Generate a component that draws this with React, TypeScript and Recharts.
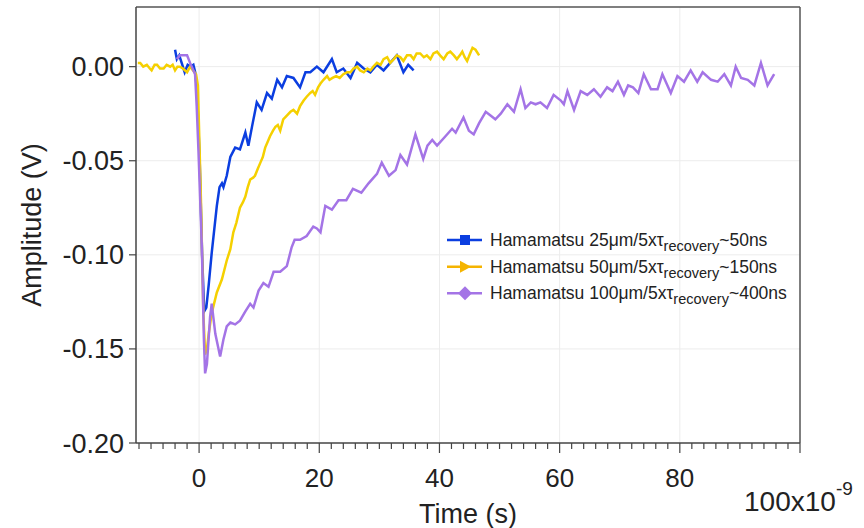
import React from 'react';
import { LineChart, Line, XAxis, YAxis, ReferenceLine, Legend } from 'recharts';

const FONT = '"Liberation Sans", Arial, sans-serif';

const blueT = [-4.0,-3.7,-3.3,-2.9,-2.4,-1.9,-1.4,-0.95,-0.65,-0.35,0.1,0.5,0.85,1.2,1.6,2.1,2.95,3.4,3.8,4.05,4.6,5.2,6.0,6.8,7.7,8.2,8.8,9.6,10.4,11.3,12.1,13.0,13.8,14.6,15.7,16.8,17.7,18.5,19.6,20.7,22.1,22.9,24.0,25.2,26.3,27.4,28.5,29.6,30.7,31.8,32.9,34.0,34.8,35.7];
const blueV = [0.009,0.004,0.006,0.002,-0.003,0.001,0.000,0.001,-0.003,-0.012,-0.050,-0.100,-0.130,-0.128,-0.116,-0.099,-0.074,-0.064,-0.062,-0.064,-0.058,-0.048,-0.043,-0.044,-0.035,-0.042,-0.032,-0.019,-0.023,-0.014,-0.017,-0.007,-0.011,-0.005,-0.006,-0.011,-0.003,-0.003,0.000,-0.003,0.004,-0.003,-0.001,-0.006,0.002,-0.001,-0.003,0.001,-0.002,0.002,0.006,-0.003,0.001,-0.002];

const yellowT = [-10.2,-9.8,-9.3,-8.7,-8.2,-7.9,-7.4,-7.0,-6.5,-5.9,-5.4,-4.8,-4.4,-4.0,-3.6,-3.2,-2.7,-2.0,-1.5,-1.0,-0.5,-0.2,0.3,0.7,1.0,1.3,1.6,2.1,2.95,3.8,4.6,5.2,5.7,6.2,6.8,7.3,7.7,8.1,8.5,9.0,9.3,9.8,10.2,10.6,11.0,11.4,11.8,12.3,12.7,13.1,13.5,14.0,14.6,15.2,15.7,16.3,16.8,17.4,17.9,18.5,18.9,19.3,19.8,20.2,20.7,21.3,21.7,22.2,22.8,23.4,24.0,24.6,25.2,25.7,26.3,26.8,27.4,28.0,28.5,29.0,29.6,30.2,30.7,31.3,31.8,32.4,32.9,33.5,34.0,34.6,35.2,35.7,36.2,36.8,37.4,37.9,38.5,39.0,39.6,40.1,40.7,41.3,41.8,42.4,42.9,43.4,43.8,44.2,44.6,45.1,45.5,46.0,46.6];
const yellowV = [0.002,0.002,0.000,0.001,-0.001,-0.002,0.001,0.001,-0.001,-0.001,0.001,0.000,0.001,-0.002,0.000,0.000,-0.001,-0.003,0.000,-0.002,-0.004,-0.010,-0.070,-0.130,-0.153,-0.150,-0.142,-0.131,-0.120,-0.113,-0.103,-0.097,-0.088,-0.083,-0.075,-0.072,-0.069,-0.064,-0.060,-0.059,-0.058,-0.054,-0.051,-0.048,-0.043,-0.040,-0.037,-0.034,-0.032,-0.031,-0.034,-0.028,-0.026,-0.024,-0.023,-0.025,-0.021,-0.018,-0.016,-0.014,-0.013,-0.015,-0.011,-0.009,-0.007,-0.005,-0.007,-0.006,-0.005,-0.006,-0.004,-0.003,-0.003,-0.001,0.000,-0.002,-0.003,-0.001,-0.002,0.000,0.002,0.001,0.004,0.005,0.002,0.004,0.006,0.005,0.003,0.006,0.006,0.004,0.007,0.007,0.005,0.006,0.004,0.007,0.008,0.006,0.004,0.007,0.008,0.006,0.004,0.006,0.008,0.005,0.003,0.007,0.010,0.009,0.006];

const purpleT = [-3.7,-3.2,-2.6,-2.0,-1.5,-0.67,-0.4,-0.1,0.45,0.8,1.0,1.3,1.83,2.1,2.7,3.5,4.05,4.6,5.2,6.0,6.8,7.7,8.5,9.05,9.9,10.7,11.55,12.4,13.5,14.6,15.4,15.9,16.8,17.9,19.0,19.6,20.2,21.0,22.1,23.2,24.5,25.6,27.0,28.2,29.6,30.4,31.6,32.7,33.5,34.6,36.0,37.3,38.0,38.8,39.6,41.0,42.1,42.7,44.0,44.9,45.7,46.6,47.7,48.5,49.3,50.2,51.3,52.4,53.5,54.3,55.2,56.0,56.8,57.9,59.0,60.2,60.7,61.3,62.4,63.5,64.6,65.7,66.8,67.9,68.8,69.7,70.7,71.4,72.2,73.1,74.0,75.2,76.3,77.1,78.5,79.6,80.7,81.8,82.9,83.8,85.2,86.3,87.4,88.5,89.3,90.2,91.3,92.4,93.5,94.6,95.7];
const purpleV = [0.004,0.006,0.006,0.006,0.002,-0.004,-0.021,-0.045,-0.095,-0.145,-0.163,-0.158,-0.133,-0.126,-0.142,-0.154,-0.145,-0.138,-0.136,-0.137,-0.135,-0.130,-0.126,-0.128,-0.119,-0.115,-0.117,-0.109,-0.109,-0.106,-0.096,-0.092,-0.092,-0.090,-0.085,-0.086,-0.088,-0.074,-0.076,-0.071,-0.071,-0.065,-0.067,-0.062,-0.057,-0.051,-0.058,-0.055,-0.047,-0.052,-0.036,-0.049,-0.042,-0.039,-0.042,-0.037,-0.033,-0.035,-0.027,-0.034,-0.036,-0.030,-0.024,-0.026,-0.028,-0.025,-0.020,-0.024,-0.012,-0.022,-0.019,-0.020,-0.019,-0.022,-0.015,-0.018,-0.020,-0.013,-0.023,-0.013,-0.015,-0.012,-0.016,-0.011,-0.013,-0.008,-0.015,-0.010,-0.011,-0.014,-0.004,-0.012,-0.012,-0.004,-0.014,-0.005,-0.008,-0.002,-0.008,-0.003,-0.007,-0.008,-0.004,-0.010,0.000,-0.006,-0.007,-0.010,0.002,-0.010,-0.004];

const seriesSizes = ['25μm', '50μm', '100μm'];
const seriesTimes = ['~50ns', '~150ns', '~400ns'];
const seriesColors = ['#0b3ee0', '#f5d000', '#a474e6'];
const markerColors = ['#0b3ee0', '#f5b400', '#a474e6'];

const xMajorTicks = [0, 20, 40, 60, 80, 100];
const xAllTicks = [-10,-8,-6,-4,-2,0,2,4,6,8,10,12,14,16,18,20,22,24,26,28,30,32,34,36,38,40,42,44,46,48,50,52,54,56,58,60,62,64,66,68,70,72,74,76,78,80,82,84,86,88,90,92,94,96,98,100];
const yTicks = [-0.2, -0.15, -0.1, -0.05, 0];
const xDomain = [-10.5, 100];
const yDomain = [-0.2, 0.0317];

const toRows = (ts: number[], vs: number[]) => ts.map((t, i) => ({ t, v: vs[i] }));
const blueData = toRows(blueT, blueV);
const yellowData = toRows(yellowT, yellowV);
const purpleData = toRows(purpleT, purpleV);

const XTick = (props: any) => {
  const { x, y, payload } = props;
  const v = payload.value;
  const major = xMajorTicks.includes(v);
  return (
    <g>
      <line x1={x} x2={x} y1={y} y2={y + (major ? 10 : 6)} stroke="#444" strokeWidth={1.2} />
      {major && v !== 100 && (
        <text x={x} y={y + 44} textAnchor="middle" fontSize={26} fill="#222" fontFamily={FONT}>{v}</text>
      )}
      {v === 100 && (
        <text x={x - 56} y={y + 68} fontSize={28} fill="#222" fontFamily={FONT}>
          100x10<tspan fontSize={19} dy={-16}>-9</tspan>
        </text>
      )}
    </g>
  );
};

const LegendBox = () => {
  const rowY = [15, 41.7, 68.3];
  return (
    <svg width={360} height={85} style={{ display: 'block', overflow: 'visible' }}>
      {seriesSizes.map((s, i) => {
        const cy = rowY[i];
        const cx = 24;
        let marker: React.ReactNode = null;
        if (i === 0) marker = <rect x={cx - 5} y={cy - 5} width={10} height={10} fill={markerColors[0]} />;
        if (i === 1) marker = <polygon points={`${cx - 5},${cy - 6} ${cx + 6},${cy} ${cx - 5},${cy + 6}`} fill={markerColors[1]} />;
        if (i === 2) marker = <polygon points={`${cx},${cy - 7} ${cx + 7},${cy} ${cx},${cy + 7} ${cx - 7},${cy}`} fill={markerColors[2]} />;
        return (
          <g key={s}>
            <line x1={6} x2={41} y1={cy} y2={cy} stroke={markerColors[i]} strokeWidth={2.5} />
            {marker}
            <text x={49} y={cy + 6} fontSize={17.5} fill="#222" fontFamily={FONT}>
              {`Hamamatsu ${s}/5xτ`}
              <tspan fontSize={14.5} dy={5}>recovery</tspan>
              <tspan fontSize={17.5} dy={-5}>{seriesTimes[i]}</tspan>
            </text>
          </g>
        );
      })}
    </svg>
  );
};

export default function App() {
  return (
    <div style={{ position: 'absolute', left: 0, top: 0, width: 864, height: 528, background: '#fff' }}>
      <LineChart width={864} height={528} margin={{ top: 7, right: 64, left: 0, bottom: 0 }}>
        <XAxis
          type="number"
          dataKey="t"
          domain={xDomain}
          ticks={xAllTicks}
          interval={0}
          allowDataOverflow
          tickSize={0}
          tickMargin={0}
          tickLine={false}
          tick={<XTick />}
          height={85}
          axisLine={{ stroke: '#444', strokeWidth: 1.5 }}
          label={{
            content: (p: any) => {
              const vb = p.viewBox || { x: 136, y: 443, width: 664 };
              return (
                <text x={vb.x + vb.width / 2} y={vb.y + 80} textAnchor="middle" fontSize={27} fill="#222" fontFamily={FONT}>
                  Time (s)
                </text>
              );
            },
          }}
        />
        <YAxis
          type="number"
          dataKey="v"
          domain={yDomain}
          ticks={yTicks}
          allowDataOverflow
          width={136}
          tickSize={7}
          tickMargin={5}
          tickFormatter={(v: number) => v.toFixed(2)}
          tick={{ fontSize: 27, fill: '#222', fontFamily: FONT }}
          tickLine={{ stroke: '#444', strokeWidth: 1.2 }}
          axisLine={{ stroke: '#444', strokeWidth: 1.5 }}
          label={{
            content: (p: any) => {
              const vb = p.viewBox || { x: 0, y: 7, height: 436 };
              const cx = 41;
              const cy = vb.y + vb.height / 2;
              return (
                <text x={cx} y={cy} textAnchor="middle" fontSize={27} fill="#222" fontFamily={FONT} transform={`rotate(-90, ${cx}, ${cy})`}>
                  Amplitude (V)
                </text>
              );
            },
          }}
        />
        {xMajorTicks.filter((v) => v < 100).map((v) => (
          <ReferenceLine key={'gx' + v} x={v} stroke="#ececec" strokeWidth={1} />
        ))}
        {yTicks.filter((v) => v > -0.2).map((v) => (
          <ReferenceLine key={'gy' + v} y={v} stroke="#ececec" strokeWidth={1} />
        ))}
        <ReferenceLine y={yDomain[1]} stroke="#555" strokeWidth={1.5} />
        <ReferenceLine x={xDomain[1]} stroke="#555" strokeWidth={1.5} />
        <Line data={blueData} dataKey="v" type="linear" stroke={seriesColors[0]} strokeWidth={2.5} dot={false} isAnimationActive={false} />
        <Line data={yellowData} dataKey="v" type="linear" stroke={seriesColors[1]} strokeWidth={2.5} dot={false} isAnimationActive={false} />
        <Line data={purpleData} dataKey="v" type="linear" stroke={seriesColors[2]} strokeWidth={2.5} dot={false} isAnimationActive={false} />
        <Legend
          layout="horizontal"
          align="center"
          verticalAlign="middle"
          wrapperStyle={{ position: 'absolute', left: 441, top: 225, width: 360, height: 85 }}
          content={() => <LegendBox />}
        />
      </LineChart>
    </div>
  );
}
